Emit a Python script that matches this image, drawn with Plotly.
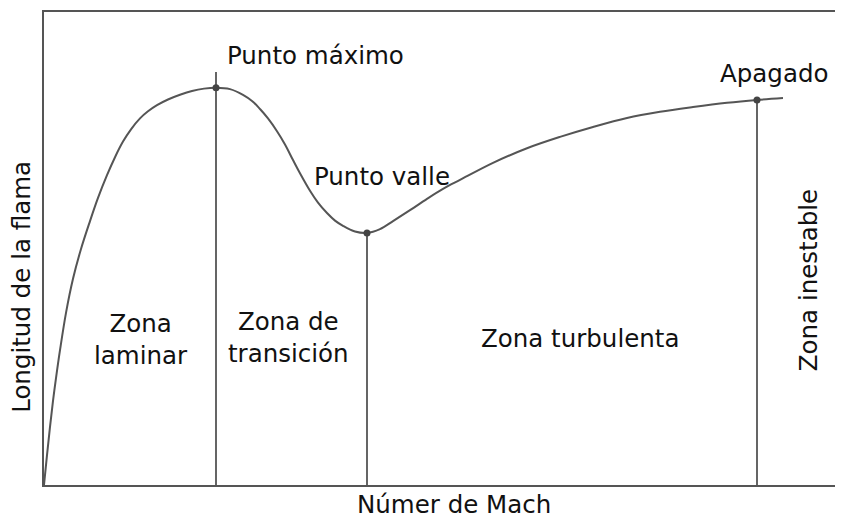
import plotly.graph_objects as go

# Flame length curve vs Mach number (arbitrary units)
mach = [0.00, 0.0375, 0.075, 0.1125, 0.15, 0.20, 0.275, 0.3625, 0.4625, 0.575,
        0.675, 0.7875, 0.8875, 0.9875, 1.0875, 1.20, 1.30, 1.4125, 1.55, 1.70,
        1.85, 2.00, 2.15,
        2.325, 2.4875, 2.60, 2.70, 2.80, 2.9125, 3.0125, 3.1125, 3.20, 3.325,
        3.425, 3.5375, 3.6375, 3.7375, 3.8875, 4.0375,
        4.20, 4.3625, 4.575, 4.7875, 4.9875, 5.20, 5.6125, 6.0375, 6.45, 6.8625,
        7.2875, 7.70, 8.1125, 8.5375, 8.9125, 9.2375]
longitud = [0.00, 0.63, 1.23, 1.78, 2.26, 2.85, 3.64, 4.36, 4.99, 5.58,
            6.07, 6.55, 6.93, 7.26, 7.52, 7.75, 7.90, 8.03, 8.15, 8.25,
            8.33, 8.38, 8.40,
            8.37, 8.25, 8.12, 7.95, 7.75, 7.48, 7.20, 6.87, 6.59, 6.22,
            5.97, 5.75, 5.59, 5.48, 5.36, 5.33,
            5.41, 5.58, 5.81, 6.05, 6.26, 6.45, 6.81, 7.12, 7.36, 7.57,
            7.76, 7.89, 7.99, 8.08, 8.14, 8.18]

# Key points
punto_nombres = ["Punto máximo", "Punto valle", "Apagado"]
punto_mach = [2.15, 4.0375, 8.9125]
punto_long = [8.40, 5.33, 8.14]
linea_tope = [8.73, 5.33, 8.14]   # top of each vertical divider

# Zone labels
zonas = ["Zona<br>laminar", "Zona de<br>transición", "Zona turbulenta"]
zona_mach = [1.21, 3.06, 6.70]
zona_long = [3.07, 3.11, 3.09]

LINE = "#555555"
FONT = "DejaVu Sans"
FS = 24.5

fig = go.Figure()

# vertical dividers
for xm, yt in zip(punto_mach, linea_tope):
    fig.add_trace(go.Scatter(x=[xm, xm], y=[0, yt], mode="lines",
                             line=dict(color=LINE, width=1.8),
                             hoverinfo="skip", showlegend=False))

fig.add_trace(go.Scatter(x=mach, y=longitud, mode="lines",
                         line=dict(color=LINE, width=2, shape="spline", smoothing=1.0),
                         showlegend=False))

fig.add_trace(go.Scatter(x=punto_mach, y=punto_long, mode="markers",
                         marker=dict(color="#444444", size=7),
                         showlegend=False))

# point labels
lbl_pos = {"Punto máximo": (3.39, 9.09), "Punto valle": (4.23, 6.53), "Apagado": (9.12, 8.71)}
for name in punto_nombres:
    x, y = lbl_pos[name]
    fig.add_annotation(x=x, y=y, text=name, showarrow=False,
                       xanchor="center", yanchor="middle",
                       font=dict(family=FONT, size=FS, color="#111111"))

for t, x, y in zip(zonas, zona_mach, zona_long):
    fig.add_annotation(x=x, y=y, text=t, showarrow=False,
                       xanchor="center", yanchor="middle",
                       font=dict(family=FONT, size=FS, color="#111111"))

fig.add_annotation(x=9.55, y=4.33, text="Zona inestable", textangle=-90, showarrow=False,
                   xanchor="center", yanchor="middle",
                   font=dict(family=FONT, size=FS, color="#111111"))

fig.add_annotation(xref="paper", yref="paper", x=-0.0275, y=0.419,
                   text="Longitud de la flama", textangle=-90, showarrow=False,
                   xanchor="center", yanchor="middle",
                   font=dict(family=FONT, size=FS, color="#111111"))
fig.add_annotation(xref="paper", yref="paper", x=0.513, y=-0.042,
                   text="Númer de Mach", showarrow=False,
                   xanchor="center", yanchor="middle",
                   font=dict(family=FONT, size=FS, color="#111111"))

fig.update_xaxes(range=[0, 9.9875], showgrid=False, zeroline=False, showticklabels=False,
                 ticks="", showline=True, linecolor=LINE, linewidth=2, mirror=True)
fig.update_yaxes(range=[0, 10], showgrid=False, zeroline=False, showticklabels=False,
                 ticks="", showline=True, linecolor=LINE, linewidth=2)

# page body has an 8px margin, so margins are reduced accordingly
fig.update_layout(width=843, height=519,
                  margin=dict(l=36, r=8, t=4, b=42, autoexpand=False),
                  plot_bgcolor="white", paper_bgcolor="white", showlegend=False)

fig.write_html("out.html")
